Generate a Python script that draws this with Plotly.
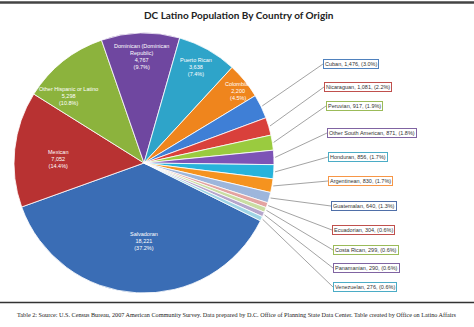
import math
import plotly.graph_objects as go

# Latino population of DC by country of origin (2007 ACS)
origins = [
    "Salvadoran", "Mexican", "Other Hispanic or Latino",
    "Dominican (Dominican Republic)", "Puerto Rican", "Colombian",
    "Cuban", "Nicaraguan", "Peruvian", "Other South American", "Honduran",
    "Argentinean", "Guatemalan", "Ecuadorian", "Costa Rican", "Panamanian",
    "Venezuelan",
]
population = [
    18221, 7052, 5298, 4767, 3638, 2200,
    1476, 1081, 917, 871, 856, 830, 640, 304, 299, 290, 276,
]
# line-wrapped names used inside the large slices
wrapped_names = {
    "Dominican (Dominican Republic)": "Dominican (Dominican<br>Republic)",
}

slice_colors = [
    "#3A6DB5", "#B83232", "#8CB33D", "#6F47A0", "#2EA4C9", "#EF851D",
    "#3F7FD6", "#D9403B", "#9ACB3F", "#7D53B6", "#27B3DB", "#F5931F",
    "#9DB6DC", "#E3A3A1", "#C9DDA2", "#B5A6CC", "#9FD4E5",
]
box_colors = [
    None, None, None, None, None, None,
    "#4F81BD", "#C0504D", "#9BBB59", "#8064A2", "#4BACC6",
    "#F79646", "#4F6FA8", "#C0504D", "#9BBB59", "#8064A2", "#4BACC6",
]

W, H = 474, 327
CX, CY, R = 144, 163, 130
ROTATION = 116.4
N_INSIDE = 6

# inside label placement: (radius fraction, angle offset in degrees)
inside_place = [(0.60, -3), (0.66, -3.5), (0.78, -10), (0.82, 0), (0.84, -1), (0.91, 2)]
# callout boxes for the small slices: (left edge px, vertical centre px)
box_place = [
    (323, 64), (324, 87), (326, 106), (327, 133), (328, 157), (328, 181),
    (331, 206), (332, 230), (333, 250), (333, 268), (333, 287),
]


def px(x):
    return x / W


def py(y):
    return 1 - y / H


def polar(theta_deg, rho):
    t = math.radians(theta_deg)
    return CX + rho * math.sin(t), CY - rho * math.cos(t)


total = sum(population)
shares = [v / total * 100 for v in population]
mid_angles = []
acc = ROTATION
for v in population:
    span = v / total * 360
    mid_angles.append(acc + span / 2)
    acc += span

fig = go.Figure(
    go.Pie(
        labels=origins,
        values=population,
        sort=False,
        direction="clockwise",
        rotation=ROTATION,
        marker=dict(colors=slice_colors, line=dict(color="white", width=0.8)),
        textinfo="none",
        hoverinfo="label+value+percent",
        showlegend=False,
        domain=dict(x=[px(CX - R), px(CX + R)], y=[py(CY + R), py(CY - R)]),
    )
)

annotations = []
shapes = []

# labels inside the six largest slices
for i in range(N_INSIDE):
    f, dth = inside_place[i]
    x, y = polar(mid_angles[i] + dth, f * R)
    name = wrapped_names.get(origins[i], origins[i])
    annotations.append(dict(
        x=px(x), y=py(y), xref="paper", yref="paper", showarrow=False,
        text=f"{name}<br>{population[i]:,}<br>({shares[i]:.1f}%)",
        font=dict(family="Liberation Sans, Arial", size=5.5, color="white"),
        align="center", xanchor="center", yanchor="middle",
    ))

# boxed callouts with leader lines for the small slices
for k, i in enumerate(range(N_INSIDE, len(origins))):
    bx, by = box_place[k]
    sx, sy = polar(mid_angles[i], R * 1.01)
    shapes.append(dict(
        type="line", xref="paper", yref="paper",
        x0=px(sx), y0=py(sy), x1=px(bx), y1=py(by),
        line=dict(color="#8C8C8C", width=0.8),
    ))
    annotations.append(dict(
        x=px(bx), y=py(by), xref="paper", yref="paper", showarrow=False,
        text=f"{origins[i]}, {population[i]:,}, ({shares[i]:.1f}%)",
        font=dict(family="Liberation Sans, Arial", size=5.5, color="#333333"),
        xanchor="left", yanchor="middle",
        bgcolor="white", bordercolor=box_colors[i], borderwidth=1, borderpad=1,
    ))

# title
annotations.append(dict(
    x=px(239), y=py(15), xref="paper", yref="paper", showarrow=False,
    text="<b>DC Latino Population By Country of Origin</b>",
    font=dict(family="Lato, Liberation Sans", size=10, color="#222222"),
    xanchor="center", yanchor="middle",
))

# source note
annotations.append(dict(
    x=px(237), y=py(314), xref="paper", yref="paper", showarrow=False,
    text=("Table 2: Source: U.S. Census Bureau, 2007 American Community Survey. "
          "Data prepared by D.C. Office of Planning State Data Center. "
          "Table created by Office on Latino Affairs"),
    font=dict(family="Liberation Serif, Times New Roman", size=6.2, color="#222222"),
    xanchor="center", yanchor="middle",
))

# frame rules at top and above the source note
shapes.append(dict(type="line", xref="paper", yref="paper",
                   x0=0, x1=1, y0=py(2.5), y1=py(2.5),
                   line=dict(color="#444444", width=2.5)))
shapes.append(dict(type="line", xref="paper", yref="paper",
                   x0=0, x1=1, y0=py(302.5), y1=py(302.5),
                   line=dict(color="#333333", width=1.5)))

fig.update_layout(
    width=W, height=H,
    margin=dict(l=0, r=0, t=0, b=0),
    paper_bgcolor="white", plot_bgcolor="white",
    annotations=annotations, shapes=shapes,
)

fig.write_html("out.html")
